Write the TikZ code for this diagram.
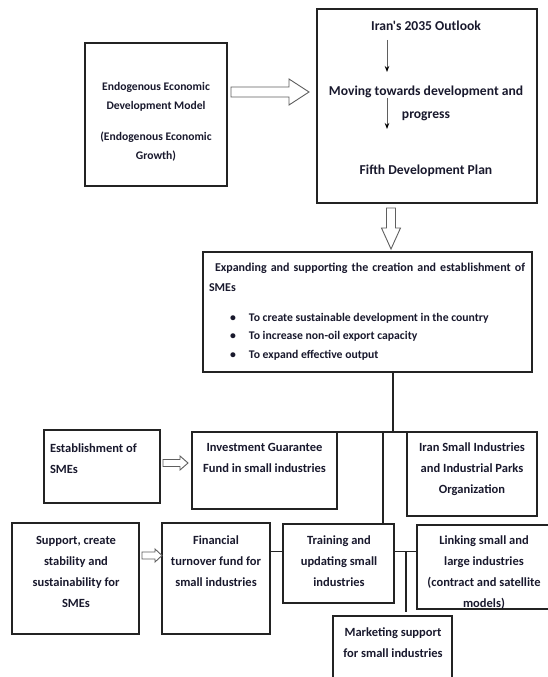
\documentclass[tikz,border=0pt]{standalone}
\usepackage{fontspec}
\setmainfont{Carlito}[Ligatures=TeXOff]
\usetikzlibrary{calc,arrows.meta}
\definecolor{linec}{RGB}{35,35,35}
\definecolor{txtc}{RGB}{25,25,45}
\definecolor{arrc}{RGB}{95,95,95}
\begin{document}
\begin{tikzpicture}[x=1pt,y=-1pt,
  box/.style={draw=linec,line width=1.1pt,inner sep=0pt,outer sep=0pt,anchor=north west},
  txt/.style={text=txtc,inner sep=0pt,outer sep=0pt,font=\bfseries\fontsize{12.5}{21}\selectfont},
  topfont/.style={font=\bfseries\fontsize{13.6}{23}\selectfont},
  afont/.style={font=\bfseries\fontsize{11.6}{19.5}\selectfont},
  hfont/.style={font=\bfseries\fontsize{12}{20}\selectfont},
  bulfont/.style={font=\bfseries\fontsize{11.7}{18.5}\selectfont},
  conn/.style={draw=linec,line width=1.1pt},
  blockarr/.style={draw=arrc,line width=0.9pt,fill=white,line join=miter},
  thinarr/.style={draw=arrc,line width=0.8pt,-{Stealth[length=6pt,width=4.5pt,black]}}]
\useasboundingbox (0,0) rectangle (547,677);
\fill[white] (0,0) rectangle (547,677);
% boxes
\node[box,minimum width=142pt,minimum height=143pt] (A) at (85,43) {};
\node[box,minimum width=220pt,minimum height=194pt] (B) at (317,9) {};
\node[box,minimum width=329pt,minimum height=120pt] (S) at (203,252) {};
\node[box,minimum width=116pt,minimum height=73pt] (E) at (44,430) {};
\node[box,minimum width=145pt,minimum height=77pt] (I) at (192,432) {};
\node[box,minimum width=130pt,minimum height=84pt] (O) at (407,432) {};
\node[box,minimum width=127pt,minimum height=111pt] (P) at (12,523) {};
\node[box,minimum width=108pt,minimum height=111pt] (F) at (162,523) {};
\node[box,minimum width=111pt,minimum height=79pt] (T) at (283,524) {};
\node[box,minimum width=135pt,minimum height=84pt] (L) at (417,525) {};
\node[box,minimum width=119pt,minimum height=70pt] (M) at (333,616) {};
% block arrows
\draw[blockarr] (231,87) -- (289,87) -- (289,79) -- (309,92) -- (289,105) -- (289,97) -- (231,97) -- cycle;
\draw[blockarr] (386.5,208) -- (395.5,208) -- (395.5,228) -- (400.5,228) -- (391,249) -- (381.5,228) -- (386.5,228) -- cycle;
\draw[blockarr] (163,459.5) -- (180,459.5) -- (180,456) -- (188,463) -- (180,470) -- (180,466.5) -- (163,466.5) -- cycle;
\draw[blockarr] (142,552) -- (155,552) -- (155,549) -- (162,555.5) -- (155,562) -- (155,559) -- (142,559) -- cycle;
% connectors
\coordinate (J) at (393,432);
\coordinate (K) at (383,432);
\coordinate (FT) at (0,551.5);
\coordinate (Mj) at (406,551.5);
\draw[conn] (S.south -| J) -- (J);
\draw[conn] (I.north east) -- (O.north west);
\draw[conn] (K) -- (K |- T.north);
\draw[conn] (F.east |- FT) -- (T.west |- FT);
\draw[conn] (T.east |- FT) -- (L.west |- FT);
\draw[conn] (Mj) -- ($(Mj |- M.north)+(0,-4)$);
% small arrows in B
\coordinate (a1) at (387,40);
\coordinate (a2) at (387,72);
\coordinate (a3) at (387,98);
\coordinate (a4) at (387,129);
\draw[thinarr] (a1) -- (a2);
\draw[thinarr] (a3) -- (a4);
% texts
\node[txt,afont,anchor=north,align=center] (tA) at (156,82) {Endogenous Economic\\Development Model\\[11pt](Endogenous Economic\\Growth)};
\node[txt,topfont,anchor=north] (tB1) at (426,21) {Iran's 2035 Outlook};
\node[txt,topfont,anchor=north,align=center] (tB2) at (426,86) {Moving towards development and\\progress};
\node[txt,topfont,anchor=north] (tB3) at (426,165) {Fifth Development Plan};
\node[txt,hfont,anchor=north west,align=left] (tS) at (209,263) {\hspace*{6pt}\makebox[310pt][s]{Expanding and supporting the creation and establishment of}\\SMEs};
\node[txt,bulfont,anchor=north west,align=left] (tBul) at (230,313) {\makebox[19pt][l]{\textbullet}To create sustainable development in the country\\\makebox[19pt][l]{\textbullet}To increase non-oil export capacity\\\makebox[19pt][l]{\textbullet}To expand effective output};
\node[txt,anchor=north west,align=left] (tE) at (50,443.5) {Establishment of\\SMEs};
\node[txt,anchor=north,align=center] (tI) at (264.5,443) {Investment Guarantee\\Fund in small industries};
\node[txt,anchor=north,align=center] (tO) at (472,443) {Iran Small Industries\\and Industrial Parks\\Organization};
\node[txt,anchor=north,align=center] (tP) at (76,536) {Support, create\\stability and\\sustainability for\\SMEs};
\node[txt,anchor=north,align=center] (tF) at (216,536) {Financial\\turnover fund for\\small industries};
\node[txt,anchor=north,align=center] (tT) at (339,536) {Training and\\updating small\\industries};
\node[txt,anchor=north,align=center] (tL) at (484,536) {Linking small and\\large industries\\(contract and satellite\\models)};
\node[txt,anchor=north,align=center] (tM) at (393,628) {Marketing support\\for small industries};
\end{tikzpicture}
\end{document}
